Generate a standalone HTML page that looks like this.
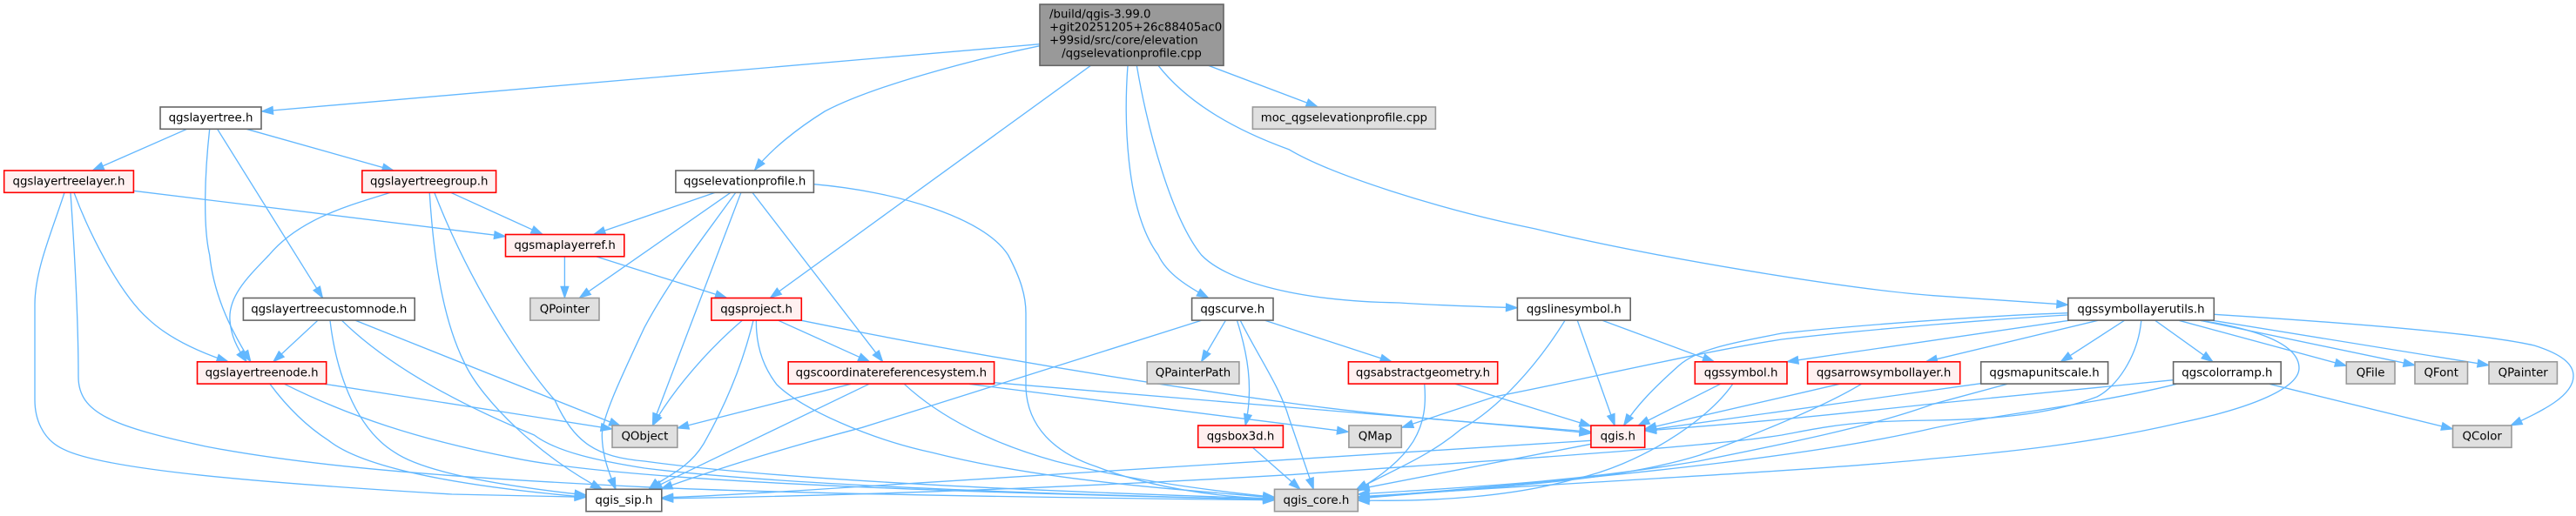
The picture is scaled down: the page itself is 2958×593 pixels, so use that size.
<!DOCTYPE html>
<html>
<head>
<meta charset="utf-8">
<style>
html,body{margin:0;padding:0;background:#fff;width:2958px;height:593px;overflow:hidden}
svg{display:block}
text{font-family:"DejaVu Sans","Liberation Sans",sans-serif;font-size:13.33px;fill:#000;text-anchor:middle}
.e path{fill:none;stroke:#63b8ff;stroke-width:1.33;marker-end:url(#a)}
.n rect{stroke-width:1.6}
.w{fill:#fff;stroke:#666}
.r{fill:#fff0f0;stroke:#f00}
.g{fill:#e0e0e0;stroke:#999}
.k{fill:#999;stroke:#666}
</style>
</head>
<body>
<svg xmlns="http://www.w3.org/2000/svg" width="2958" height="593" viewBox="0 0 2958 593">
<defs>
<marker id="a" markerUnits="userSpaceOnUse" markerWidth="16" markerHeight="12" refX="14" refY="5.5" orient="auto">
<path d="M1,1 L14,5.5 L1,10 Z" fill="#63b8ff" stroke="#63b8ff" stroke-width="1"/>
</marker>
</defs>
<g class="e">
<path d="M1194,50.7 L300.5,128"/>
<path d="M1194,52.7 C1110,70 1000,100 947,128 C915,148 885,172 866.5,195.5"/>
<path d="M1252.5,75.3 L884.4,342.3"/>
<path d="M1295,75.3 C1291,130 1291,240 1330,293 C1340,315 1365,330 1387.5,342.3"/>
<path d="M1305.3,75.3 C1318,150 1345,250 1379.5,293 C1405,320 1480,346 1607,348 C1650,351 1700,352.5 1742.4,353.7"/>
<path d="M1330,75.3 C1365,120 1420,150 1480,171.7 C1527,200 1650,240 1763,263 C1900,296 2120,332 2220,339.7 L2374.8,350.3"/>
<path d="M1387.5,75.3 L1513,122.7"/>
<path d="M214.7,148.3 L106.2,196"/>
<path d="M283,148.3 L452,196"/>
<path d="M240.7,148.3 C235,200 233,260 240.7,293 C245,335 262,375 287.9,415.7"/>
<path d="M249.6,148.3 L370.5,342.3"/>
<path d="M153.4,219.3 L580.5,271.7"/>
<path d="M85,221.3 C100,262 135,335 170,366.3 C195,390 230,405 262,415.7"/>
<path d="M74,221.3 C60,265 40,310 40,350 L40,459.7 C40,480 48,505 73,516.3 C120,540 300,555 519,568 L673,571.3"/>
<path d="M81,221.3 C85,280 90,360 90,433 C90,475 130,490 236,513 C350,535 500,548 740,559.7 C900,567 1200,572 1463.5,574.7"/>
<path d="M517.7,221.3 L623,269.3"/>
<path d="M448.3,221.3 C405,235 345,250 309,293 C285,318 262,340 264,368 C265,385 272,400 283.2,415.7"/>
<path d="M493.2,221.3 C497,280 505,360 533,416.3 C553,460 620,525 691.4,562.3"/>
<path d="M498.8,221.3 C545,340 610,430 637,459.7 C660,510 685,525 740,530 C900,552 1200,565 1463.5,573"/>
<path d="M648.4,294.7 L648.4,342.3"/>
<path d="M684.3,294.7 L834.4,342.3"/>
<path d="M821.2,221.3 L682,269.3"/>
<path d="M839,221.3 L665.4,342.3"/>
<path d="M844.8,221.3 C810,270 770,320 740,376.3 C715,430 691,480 691.3,500 C691.5,525 700,545 707,562.3"/>
<path d="M850.9,221.3 L749.4,488"/>
<path d="M864,221.3 L1013.7,415.7"/>
<path d="M934.4,211.7 C1030,220 1130,250 1157.6,293 C1172,320 1178,340 1178,360 L1178,446 C1180,490 1210,520 1259,536.3 C1320,560 1400,572 1463.5,573"/>
<path d="M852.3,368.3 C815,400 775,445 749.4,489"/>
<path d="M865,368.3 C850,430 825,480 808,510 C790,540 760,550 745,562.3"/>
<path d="M893.8,368.3 L998.6,415.7"/>
<path d="M920.3,368.3 C1150,415 1350,445 1480,463 C1600,480 1720,487 1826.9,496.3"/>
<path d="M868.4,368.3 C868,395 875,420 892,442 C920,470 1000,505 1070,520 C1200,553 1350,562 1463.5,572"/>
<path d="M977,441.3 L777.8,492"/>
<path d="M998,441.3 L747,562.3"/>
<path d="M1038.3,441.3 C1080,480 1140,510 1212,530 C1290,550 1380,563 1463.5,571.3"/>
<path d="M1112.8,441.3 L1548.4,496.3"/>
<path d="M1141.6,439.7 L1480,468 C1600,478 1720,487 1826.9,498"/>
<path d="M364.8,368.3 L313.8,415.7"/>
<path d="M408.2,368.3 L712.6,489.7"/>
<path d="M379,368.3 C385,420 405,490 453,519.7 C490,545 590,560 673,569"/>
<path d="M392.6,368.3 C450,425 540,470 613.5,500 C640,520 690,530 740,538 C900,558 1200,568 1463.5,574"/>
<path d="M372.8,441.3 L703,493"/>
<path d="M310,441.3 C335,475 360,495 377.5,506.3 C420,540 540,560 673,571.3"/>
<path d="M326.6,441.3 C400,478 480,505 590,526.3 C680,545 900,562 1463.5,574"/>
<path d="M1407.3,368.3 L1379.5,415.7"/>
<path d="M1420.5,368.3 C1432,405 1440,445 1430,489"/>
<path d="M1424.3,368.3 C1445,410 1470,445 1480,480 L1508.3,562.3"/>
<path d="M1379.5,368.3 L990,491.3 C900,515 820,540 759,562"/>
<path d="M1452.6,368.3 L1598,415.7"/>
<path d="M1438.4,514.3 L1493,562.3"/>
<path d="M1826.9,506.3 C1600,520 1300,540 976,560 C900,565 820,570 759.8,572"/>
<path d="M1826.9,510.3 L1559.3,562.3"/>
<path d="M1635.7,441.3 C1640,490 1625,525 1555.5,565"/>
<path d="M1671,441.3 L1826.9,489.7"/>
<path d="M1797,368.3 C1765,420 1720,470 1678,493 C1640,525 1600,540 1557,563"/>
<path d="M1811.3,368.3 L1854.2,489"/>
<path d="M1840,368.3 L1968.4,415.7"/>
<path d="M1975.5,441.3 L1881,489"/>
<path d="M1989.7,441.3 C1960,485 1880,535 1810,550 C1740,570 1650,577 1559.3,575"/>
<path d="M2112.4,441.3 L1888.7,493"/>
<path d="M2137.4,441.3 C2090,470 2000,505 1952,523 C1850,555 1700,560 1559.3,573"/>
<path d="M2374.8,359.7 C2300,362 2150,372 2046,383 C2000,392 1950,400 1928,420 C1900,445 1880,465 1864.6,489"/>
<path d="M2374.8,362 C2300,366 2150,378 2046,390 C1950,405 1800,440 1716,456 L1609.8,491.3"/>
<path d="M2375.7,368.3 L2052,415.7"/>
<path d="M2408.8,368.3 L2211.5,415.7"/>
<path d="M2439.4,368.3 L2366.3,415.7"/>
<path d="M2474.8,368.3 L2541,415.7"/>
<path d="M2502.2,368.3 L2694.3,420.3"/>
<path d="M2526.8,368.3 L2773,419.7"/>
<path d="M2540.9,368.3 L2858,419.7"/>
<path d="M2542.3,361.3 C2680,370 2850,383 2910,397 C2945,408 2955,420 2955,432 C2955,455 2920,472 2883,489"/>
<path d="M2458.8,368.3 C2455,410 2430,445 2408,456 C2350,478 2280,482 2220,483 C2120,484 2100,490 2046,500 C1950,515 1700,530 1480,545.7 C1200,562 950,570 759.8,573"/>
<path d="M2526.8,368.3 C2590,378 2640,395 2640,423 C2640,445 2590,468 2503,486 C2400,510 2300,520 2220,527 C2100,540 1800,555 1559.3,571"/>
<path d="M2274.7,440.7 L1888.7,494.7"/>
<path d="M2305,441.3 L2220,464.3 C2150,490 2050,510 1950,530 C1800,555 1680,560 1559.3,568"/>
<path d="M2495.6,436.7 L2220,464 C2100,477 2000,487 1888.7,495"/>
<path d="M2499.4,441.3 C2400,466 2300,475 2220,492 C2100,520 1900,545 1559.3,572"/>
<path d="M2606,441.3 L2816.5,493"/>
</g>
<g class="n">
<rect class="k" x="1194" y="5" width="211" height="70.3"/>
<text x="1205" y="20.7" style="text-anchor:start">/build/qgis-3.99.0</text>
<text x="1205" y="35.7" style="text-anchor:start">+git20251205+26c88405ac0</text>
<text x="1205" y="50.7" style="text-anchor:start">+99sid/src/core/elevation</text>
<text x="1299.5" y="65.3">/qgselevationprofile.cpp</text>

<rect class="w" x="184" y="123" width="116" height="25.3"/><text x="242" y="139.7">qgslayertree.h</text>
<rect class="g" x="1438.4" y="123" width="210" height="25.3"/><text x="1543.4" y="139.7">moc_qgselevationprofile.cpp</text>

<rect class="r" x="4.7" y="196" width="148.7" height="25.3"/><text x="79" y="212.7">qgslayertreelayer.h</text>
<rect class="r" x="415.8" y="196" width="153.8" height="25.3"/><text x="492.7" y="212.7">qgslayertreegroup.h</text>
<rect class="w" x="775.9" y="196" width="158.5" height="25.3"/><text x="855.2" y="212.7">qgselevationprofile.h</text>

<rect class="r" x="580.5" y="269.5" width="136.3" height="25.3"/><text x="648.6" y="286">qgsmaplayerref.h</text>

<rect class="w" x="279.4" y="342.5" width="196.8" height="25.6"/><text x="377.8" y="359.3">qgslayertreecustomnode.h</text>
<rect class="g" x="608.8" y="342.5" width="79.2" height="25.6"/><text x="648.4" y="359.3">QPointer</text>
<rect class="r" x="816.9" y="342.5" width="103.4" height="25.6"/><text x="868.6" y="359.3">qgsproject.h</text>
<rect class="w" x="1368.6" y="342.5" width="93.4" height="25.6"/><text x="1415.3" y="359.3">qgscurve.h</text>
<rect class="w" x="1742.4" y="342.5" width="129.8" height="25.6"/><text x="1807.3" y="359.3">qgslinesymbol.h</text>
<rect class="w" x="2374.8" y="342.5" width="167.5" height="25.6"/><text x="2458.5" y="359.3">qgssymbollayerutils.h</text>

<rect class="r" x="226.5" y="415.8" width="148.2" height="25.3"/><text x="300.6" y="432.5">qgslayertreenode.h</text>
<rect class="r" x="905.2" y="415.8" width="236.4" height="25.3"/><text x="1023.4" y="432.5">qgscoordinatereferencesystem.h</text>
<rect class="g" x="1317.2" y="415.8" width="105.7" height="25.3"/><text x="1370" y="432.5">QPainterPath</text>
<rect class="r" x="1548.4" y="415.8" width="171.3" height="25.3"/><text x="1634" y="432.5">qgsabstractgeometry.h</text>
<rect class="r" x="1946.3" y="415.8" width="105.7" height="25.3"/><text x="1999.1" y="432.5">qgssymbol.h</text>
<rect class="r" x="2075.6" y="415.8" width="175.1" height="25.3"/><text x="2163.1" y="432.5">qgsarrowsymbollayer.h</text>
<rect class="w" x="2274.7" y="415.8" width="145.9" height="25.3"/><text x="2347.6" y="432.5">qgsmapunitscale.h</text>
<rect class="w" x="2495.6" y="415.8" width="123.6" height="25.3"/><text x="2557.4" y="432.5">qgscolorramp.h</text>
<rect class="g" x="2694.3" y="415.8" width="55.7" height="25.3"/><text x="2722.1" y="432.5">QFile</text>
<rect class="g" x="2773" y="415.8" width="60.5" height="25.3"/><text x="2803.2" y="432.5">QFont</text>
<rect class="g" x="2858" y="415.8" width="78.4" height="25.3"/><text x="2897.2" y="432.5">QPainter</text>

<rect class="g" x="703" y="489" width="74.8" height="25.3"/><text x="740.4" y="505.7">QObject</text>
<rect class="r" x="1375.7" y="489" width="97.7" height="25.3"/><text x="1424.5" y="505.7">qgsbox3d.h</text>
<rect class="g" x="1548.9" y="489" width="60.4" height="25.3"/><text x="1579.1" y="505.7">QMap</text>
<rect class="r" x="1826.9" y="489" width="61.8" height="25.3"/><text x="1857.8" y="505.7">qgis.h</text>
<rect class="g" x="2816.5" y="489" width="67.5" height="25.3"/><text x="2850.2" y="505.7">QColor</text>

<rect class="w" x="673" y="562.3" width="86.8" height="25.4"/><text x="716.4" y="579">qgis_sip.h</text>
<rect class="g" x="1463.5" y="562.3" width="95.8" height="25.4"/><text x="1511.4" y="579">qgis_core.h</text>
</g>
</svg>
</body>
</html>
